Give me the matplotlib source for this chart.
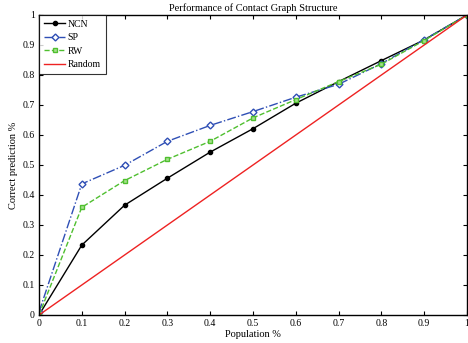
import matplotlib.pyplot as plt
import numpy as np

population = [0, 0.1, 0.2, 0.3, 0.4, 0.5, 0.6, 0.7, 0.8, 0.9, 1.0]
ncn = [0, 0.233, 0.366, 0.456, 0.543, 0.621, 0.706, 0.778, 0.848, 0.917, 1.0]
sp = [0.01, 0.437, 0.499, 0.579, 0.632, 0.678, 0.726, 0.769, 0.838, 0.918, 1.0]
rw = [0, 0.359, 0.448, 0.519, 0.579, 0.657, 0.718, 0.778, 0.836, 0.915, 1.0]
random_x = [0, 1]
random_y = [0, 1]

plt.rcParams['font.family'] = ['Liberation Serif', 'DejaVu Serif']

fig = plt.figure(figsize=(4.68, 3.43), dpi=100)
ax = fig.add_axes([39 / 468, 1 - 315 / 343, 428 / 468, 300 / 343])

ax.plot(population, ncn, color='black', lw=1.0, marker='o', ms=3, label='NCN')
ax.plot(population, sp, color='#2f4fb5', lw=1.0, ls='-.', marker='D', ms=3.5,
        mfc='white', mec='#2f4fb5', label='SP')
ax.plot(population, rw, color='#4fbf2f', lw=1.0, ls='--', marker='s', ms=3.5,
        mfc='#a8e090', mec='#4fbf2f', label='RW')
ax.plot(random_x, random_y, color='#ee2222', lw=1.0, label='Random')

ax.set_xlim(0, 1)
ax.set_ylim(0, 1)
ax.set_xticks(np.arange(0, 1.01, 0.1))
ax.set_yticks(np.arange(0, 1.01, 0.1))
ax.set_xticklabels(['0', '0.1', '0.2', '0.3', '0.4', '0.5', '0.6', '0.7', '0.8', '0.9', '1'])
ax.set_yticklabels(['0', '0.1', '0.2', '0.3', '0.4', '0.5', '0.6', '0.7', '0.8', '0.9', '1'])
ax.tick_params(direction='in', top=True, right=True, labelsize=7, length=3, pad=3)
for s in ax.spines.values():
    s.set_linewidth(1.0)

ax.set_title('Performance of Contact Graph Structure', fontsize=7.5, pad=3)
ax.set_xlabel('Population %', fontsize=7.5, labelpad=1)
ax.set_ylabel('Correct prediction %', fontsize=7.5, labelpad=3)

leg = ax.legend(loc='upper left', fontsize=7, frameon=True, fancybox=False,
                edgecolor='black', borderaxespad=0, handlelength=2.2,
                handletextpad=0.25, labelspacing=0.45, borderpad=0.5)
leg.get_frame().set_linewidth(0.8)

fig.savefig('out.png', dpi=100)
